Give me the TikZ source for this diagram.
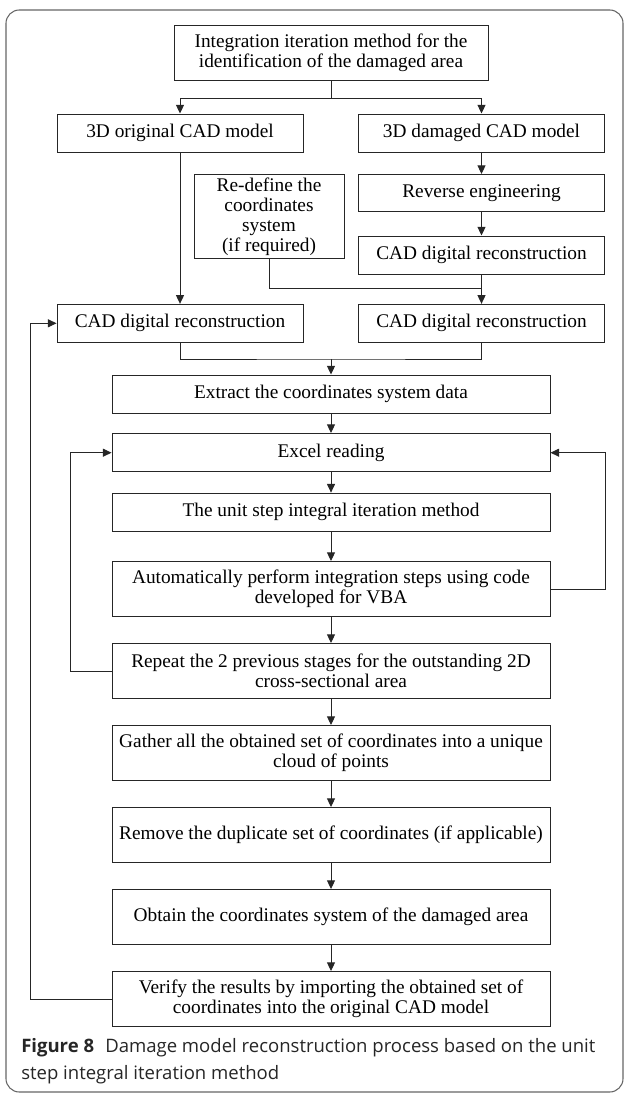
\documentclass[tikz,border=0pt]{standalone}
\usepackage{fontspec}
\setmainfont{Liberation Serif}
\newfontfamily\capfont{Open Sans}
\usetikzlibrary{arrows.meta}

\begin{document}
\begin{tikzpicture}[x=0.75pt,y=-0.75pt,
	box/.style={draw=black!85,line width=0.7pt,inner sep=0pt,align=center,
	font=\fontsize{14.5}{15}\selectfont},
	half/.style={box,minimum width=184.5pt,minimum height=28.5pt},
	wide/.style={box,minimum width=328.5pt,minimum height=#1},
	link/.style={draw=black!85,line width=0.7pt},
	arr/.style={link,-{Triangle[length=6.5pt,width=6pt]}},
	caption/.style={anchor=west,inner sep=0pt,font=\capfont\fontsize{13.9}{18}\selectfont,text=black!85}]
	\useasboundingbox (0,0) rectangle (624,1094);
	\draw[draw=black!60,line width=0.8pt,rounded corners=10] (6,10) rectangle (623,1092);
	\node[box,minimum width=235.5pt,minimum height=41.25pt] (top) at (331,53)
	{Integration iteration method for the\\identification of the damaged area};
	\node[half] (orig) at (180,133) {3D original CAD model};
	\node[half] (dmg) at (481.5,133) {3D damaged CAD model};
	\node[box,minimum width=112.5pt,minimum height=63pt] (redef) at (269,216.5)
	{Re-define the\\coordinates\\system\\(if required)};
	\node[half,minimum height=27.75pt] (rev) at (481.5,193) {Reverse engineering};
	\node[half] (cadA) at (481.5,255) {CAD digital reconstruction};
	\node[half] (cadL) at (180,323.3) {CAD digital reconstruction};
	\node[half] (cadR) at (481.5,323.3) {CAD digital reconstruction};
	\node[wide=28.5pt] (extract) at (331,394) {Extract the coordinates system data};
	\node[wide=28.8pt] (excel) at (331,452.7) {Excel reading};
	\node[wide=28.8pt] (unit) at (331,512.3) {The unit step integral iteration method};
	\node[wide=41.25pt] (auto) at (331,589)
	{Automatically perform integration steps using code\\developed for VBA};
	\node[wide=41.25pt] (repeat) at (331,671)
	{Repeat the 2 previous stages for the outstanding 2D\\cross-sectional area};
	\node[wide=41.25pt] (gather) at (331,753)
	{Gather all the obtained set of coordinates into a unique\\cloud of points};
	\node[wide=41.25pt] (remove) at (331,835) {Remove the duplicate set of coordinates (if applicable)};
	\node[wide=41.25pt] (obtain) at (331,917) {Obtain the coordinates system of the damaged area};
	\node[wide=41.25pt] (verify) at (331,999)
	{Verify the results by importing the obtained set of\\coordinates into the original CAD model};
	\coordinate (jT) at (331,98);
	\coordinate (jR) at (481.5,288.5);
	\coordinate (jM) at (331,359);
	\draw[link] (top.south) -- (jT);
	\draw[arr] (jT) -| (orig.north);
	\draw[arr] (jT) -| (dmg.north);
	\draw[arr] (orig) -- (cadL);
	\draw[arr] (dmg) -- (rev);
	\draw[arr] (rev) -- (cadA);
	\draw[arr] (cadA) -- (cadR);
	\draw[link] (redef.south) |- (jR);
	\draw[link] (cadL.south) |- (jM) -| (cadR.south);
	\draw[arr] (jM) -- (extract.north);
	\draw[arr] (extract) -- (excel);
	\draw[arr] (excel) -- (unit);
	\draw[arr] (unit) -- (auto);
	\draw[arr] (auto) -- (repeat);
	\draw[arr] (repeat) -- (gather);
	\draw[arr] (gather) -- (remove);
	\draw[arr] (remove) -- (obtain);
	\draw[arr] (obtain) -- (verify);
	\draw[arr] (auto.east) -- ++(55,0) |- (excel.east);
	\draw[arr] (repeat.west) -- ++(-41,0) |- (excel.west);
	\draw[arr] (verify.west) -- ++(-81,0) |- (cadL.west);
	\node[caption] (cap1) at (21,1048)
	{\textbf{Figure 8}\hspace{0.6em}Damage model reconstruction process based on the unit};
	\node[caption] (cap2) at (21,1075) {step integral iteration method};
\end{tikzpicture}
\end{document}
